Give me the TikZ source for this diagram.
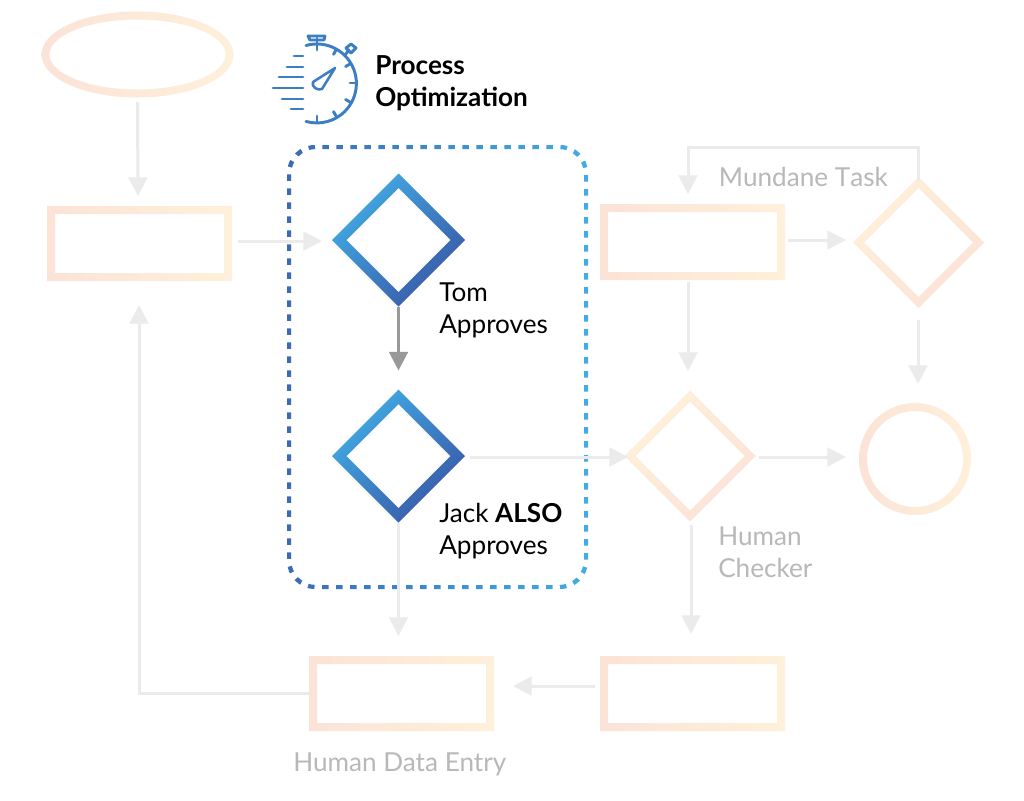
\documentclass[tikz,border=0pt]{standalone}
\usepackage{fontspec}
\setmainfont{Lato}
\usetikzlibrary{arrows.meta,calc}
\definecolor{peach}{HTML}{FBE3D7}
\definecolor{cream}{HTML}{FEF0DA}
\definecolor{arrowgrey}{HTML}{EBEBEB}
\definecolor{darkgrey}{HTML}{999999}
\definecolor{labelgrey}{HTML}{B8B8B8}
\definecolor{blueA}{HTML}{42ACE4}
\definecolor{blueB}{HTML}{3958A8}
\definecolor{iconblue}{HTML}{3B7EC4}
\tikzset{
  ghost/.style={inner sep=0pt,outer sep=0pt,draw=none},
  arr/.style={draw=arrowgrey,line width=2.25pt,-{Triangle[length=14pt,width=14pt]}},
  darr/.style={draw=darkgrey,line width=2.25pt,-{Triangle[length=14pt,width=14pt]}},
  lab/.style={inner sep=0pt,anchor=west,align=left,font=\fontsize{19.6pt}{24pt}\selectfont},
  icon/.style={draw=iconblue,line width=2.2pt,line cap=round,line join=round},
  warm/.style={left color=peach,right color=cream},
}
% name, cx, cy, half-width, half-height, stroke, style
\newcommand{\rectring}[7]{%
  \node[ghost,minimum width=#4*1.5pt,minimum height=#5*1.5pt] (#1) at (#2,#3) {};
  \shade[#7,even odd rule] (#2-#4,#3-#5) rectangle (#2+#4,#3+#5)
     (#2-#4+#6,#3-#5+#6) rectangle (#2+#4-#6,#3+#5-#6);
}
% name, cx, cy, outer half diagonal, inner half diagonal, style
\newcommand{\diamring}[6]{%
  \node[ghost,minimum size=#4*1.5pt] (#1) at (#2,#3) {};
  \shade[#6,even odd rule]
     (#2-#4,#3) -- (#2,#3-#4) -- (#2+#4,#3) -- (#2,#3+#4) -- cycle
     (#2-#5,#3) -- (#2,#3-#5) -- (#2+#5,#3) -- (#2,#3+#5) -- cycle;
}
\begin{document}
\begin{tikzpicture}[x=0.75pt,y=-0.75pt]
\useasboundingbox (0,0) rectangle (1024,800);
\fill[white] (0,0) rectangle (1024,800);

% dashed gradient frame
\shade[left color=blueB!78!blueA,right color=blueA,even odd rule,rounded corners=21pt]
   (287,145) rectangle (588,589)
   [rounded corners=19pt] (291,149) rectangle (584,585);
\draw[white,line width=5pt,rounded corners=20pt,dash pattern=on 5.5pt off 5pt,dash phase=5pt]
   (289,147) rectangle (586,587);

% shapes
\node[ghost,minimum width=144pt,minimum height=64pt] (start) at (137.5,54.5) {};
\shade[warm,even odd rule] (137.5,54.5) ellipse [x radius=96,y radius=43]
   (137.5,54.5) ellipse [x radius=88,y radius=35];
\rectring{boxA}{139.5}{243.5}{92.5}{37.5}{8}{warm}
\rectring{boxB}{692.5}{242}{92.5}{38}{8}{warm}
\rectring{boxC}{401.5}{693.5}{92.5}{37.5}{8}{warm}
\rectring{boxD}{692.5}{693.5}{92.5}{37.5}{8}{warm}
\diamring{tom}{398.5}{240}{66.5}{52}{left color=blueA,right color=blueB,shading angle=45}
\diamring{jack}{398.5}{456}{66.5}{52}{left color=blueA,right color=blueB,shading angle=45}
\diamring{mund}{918.5}{242.5}{65.5}{54.5}{left color=cream,right color=peach,shading angle=45}
\diamring{human}{690}{456}{65.5}{54.5}{left color=cream,right color=peach,shading angle=45}
\node[ghost,minimum size=84pt] (endc) at (915,459) {};
\shade[warm,even odd rule] (915,459) circle [radius=56] (915,459) circle [radius=48];

% connectors
\draw[arr] ($(start.south)+(0,5)$) -- ($(boxA.north)+(-1.5,-10)$);
\draw[arr] ($(boxA.east)+(6,-2.5)$) -- ($(tom.west)+(-10,1)$);
\draw[darr] (tom.south) -- ($(jack.north)+(0,-19)$);
\draw[arr] ($(jack.east)+(5,1)$) -- ($(human.west)+(3.5,1)$);
\draw[arr] (jack.south) -- ($(boxC.north)+(-3,-20)$);
\draw[arr] (boxC.west) -| ($(boxA.south)+(-0.5,24)$);
\draw[arr] ($(boxD.west)+(-5,-7.5)$) -- ($(boxC.east)+(19,-7.5)$);
\draw[arr] ($(human.south)+(1,3)$) -- ($(boxD.north)+(-1.5,-22)$);
\draw[arr] ($(human.east)+(3,1)$) -- ($(endc.west)+(-13,-2)$);
\draw[arr] ($(boxB.south)+(-4.5,2)$) -- ($(human.north)+(-2,-19.5)$);
\draw[arr] ($(boxB.east)+(3,-2)$) -- ($(mund.west)+(-7,-2.5)$);
\draw[arr] ($(mund.south)+(-0.5,12)$) -- ($(endc.north)+(3,-19)$);
\draw[arr] ($(mund.north)+(-0.5,4)$) |- ($(boxB.north)+(-4.5,-57)$) -- ($(boxB.north)+(-4.5,-10)$);

% labels
\node[lab,text=black] (tomlab) at (439,310) {Tom\\Approves};
\node[lab,text=black] (jacklab) at (439,531) {Jack \textbf{ALSO}\\Approves};
\node[lab,text=labelgrey] (mundlab) at (718.5,177) {\addfontfeature{Kerning=Off}Mundane Task};
\node[lab,text=labelgrey] (humanlab) at (718,552) {Human\\Checker};
\node[lab,text=labelgrey] (entrylab) at (293,764) {Human Data Entry};
\node[lab,text=black,font=\fontsize{19.6pt}{24pt}\selectfont\bfseries] (titlelab) at (375,83) {Process\\Optimization};

% stopwatch icon
\draw[icon] (306,45.5) arc[start angle=-106,end angle=106,radius=39.5];
\foreach \a in {90,60,30,0,-30,-60,-90}
  \draw[icon] ({317+39*cos(\a)},{83-39*sin(\a)}) -- ({317+33*cos(\a)},{83-33*sin(\a)});
\draw[icon] (317,44) -- (317,38);
\draw[icon] (308,36) -- (325,36) (308,36) -- (310,40) -- (324,40) -- (325,36);
\draw[icon] (345,55) -- (349,50);
\draw[icon] (351,44) -- (356,48) -- (351,53) -- (346,48) -- cycle;
\draw[icon,line width=1.9pt] (335,68) -- (322,89) .. controls (318,91) and (311,87) .. (313,82) -- cycle;
\foreach \yy/\xx in {56/294,67/287,77/279,88/273,99/282,109/291}
  \draw[icon] (\xx,\yy) -- (303,\yy);
\end{tikzpicture}
\end{document}
